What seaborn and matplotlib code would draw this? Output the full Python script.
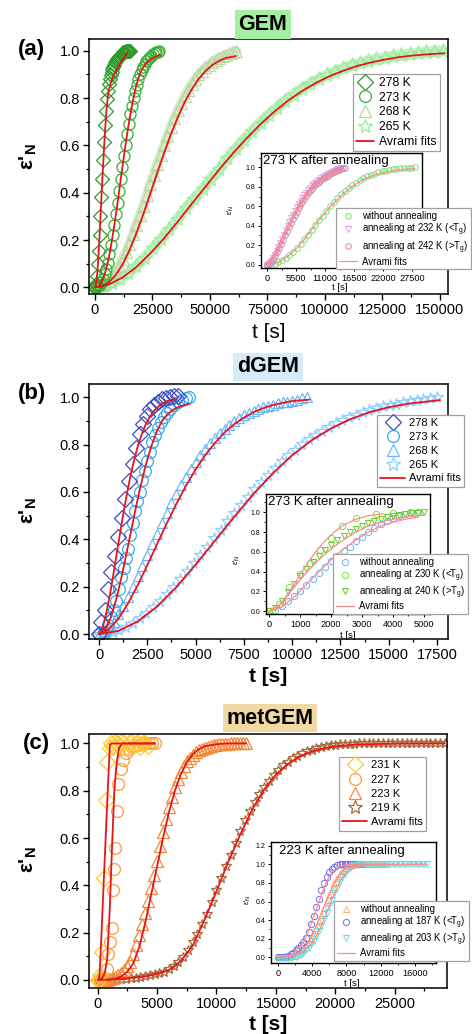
import matplotlib
matplotlib.use("Agg")
import matplotlib.pyplot as plt
import seaborn as sns
from matplotlib.lines import Line2D
from matplotlib.ticker import MultipleLocator

sns.set_theme(style="ticks")
plt.rcParams["font.family"] = ["Liberation Sans", "DejaVu Sans"]
plt.rcParams["mathtext.fontset"] = "custom"
plt.rcParams["mathtext.rm"] = "Liberation Sans"
plt.rcParams["mathtext.it"] = "Liberation Sans"
plt.rcParams["mathtext.bf"] = "Liberation Sans:bold"
for k in ["text.color", "axes.labelcolor", "xtick.color", "ytick.color", "axes.edgecolor"]:
    plt.rcParams[k] = "black"

# ---------------- DATA: panel (a) GEM ----------------
tA278 = [0, 400, 800, 1200, 1600, 2000, 2400, 2800, 3200, 3600, 4000, 4400, 4800, 5200, 5600, 6000, 6400, 6800,
         7200, 7600, 8000, 8400, 8800, 9200, 9600, 10000, 10400, 10800, 11200, 11600, 12000, 12400, 12800, 13200,
         13600, 14000, 14400, 14800, 15200]
eA278 = [0.0, 0.015, 0.05, 0.10, 0.155, 0.22, 0.30, 0.38, 0.46, 0.54, 0.615, 0.685, 0.745, 0.795, 0.83, 0.86, 0.88,
         0.897, 0.91, 0.922, 0.932, 0.942, 0.951, 0.958, 0.965, 0.97, 0.975, 0.98, 0.984, 0.987, 0.99, 0.993, 0.995,
         0.997, 0.998, 0.999, 1.0, 1.0, 1.0]
tA273 = [0, 700, 1400, 2100, 2800, 3500, 4200, 4900, 5600, 6300, 7000, 7700, 8400, 9100, 9800, 10500, 11200, 11900,
         12600, 13300, 14000, 14700, 15400, 16100, 16800, 17500, 18200, 18900, 19600, 20300, 21000, 21700, 22400,
         23100, 23800, 24500, 25200, 25900, 26600, 27300, 28000]
eA273 = [0.0, 0.001, 0.004, 0.011, 0.022, 0.036, 0.055, 0.078, 0.105, 0.14, 0.178, 0.22, 0.262, 0.31, 0.357, 0.407,
         0.457, 0.507, 0.556, 0.603, 0.649, 0.692, 0.731, 0.768, 0.80, 0.83, 0.857, 0.88, 0.90, 0.917, 0.932, 0.945,
         0.956, 0.965, 0.973, 0.979, 0.985, 0.99, 0.994, 0.997, 1.0]
tA268 = [0, 1500, 3000, 4500, 6000, 7500, 9000, 10500, 12000, 13500, 15000, 16500, 18000, 19500, 21000, 22500, 24000,
         25500, 27000, 28500, 30000, 31500, 33000, 34500, 36000, 37500, 39000, 40500, 42000, 43500, 45000, 46500,
         48000, 49500, 51000, 52500, 54000, 55500, 57000, 58500, 60000, 61500]
eA268 = [0.0, 0.003, 0.008, 0.016, 0.028, 0.045, 0.065, 0.09, 0.12, 0.15, 0.185, 0.225, 0.265, 0.305, 0.345, 0.39,
         0.435, 0.475, 0.52, 0.56, 0.60, 0.64, 0.68, 0.715, 0.75, 0.78, 0.81, 0.835, 0.86, 0.88, 0.90, 0.915, 0.93,
         0.942, 0.953, 0.962, 0.97, 0.977, 0.983, 0.989, 0.994, 1.0]
tA265 = [0, 3600, 7200, 10800, 14400, 18000, 21600, 25200, 28800, 32400, 36000, 39600, 43200, 46800, 50400, 54000,
         57600, 61200, 64800, 68400, 72000, 75600, 79200, 82800, 86400, 90000, 93600, 97200, 100800, 104400, 108000,
         111600, 115200, 118800, 122400, 126000, 129600, 133200, 136800, 140400, 144000, 147600, 151200]
eA265 = [0.0, 0.005, 0.017, 0.035, 0.06, 0.09, 0.125, 0.165, 0.205, 0.245, 0.29, 0.335, 0.375, 0.415, 0.46, 0.50,
         0.545, 0.585, 0.625, 0.66, 0.695, 0.73, 0.76, 0.79, 0.815, 0.84, 0.86, 0.88, 0.897, 0.912, 0.926, 0.938,
         0.948, 0.957, 0.964, 0.971, 0.977, 0.982, 0.986, 0.99, 0.994, 0.997, 1.0]
fA278_t = [0, 500, 1000, 1500, 2000, 2500, 3000, 3500, 4000, 4500, 5000, 5500, 6000, 7000, 8000, 9000, 10000, 11000,
           12000, 13000, 14300]
fA278_e = [0, 0.015, 0.06, 0.13, 0.22, 0.32, 0.42, 0.51, 0.60, 0.68, 0.75, 0.80, 0.835, 0.87, 0.895, 0.915, 0.932,
           0.948, 0.962, 0.976, 0.996]
fA273_t = [0, 1000, 2000, 3000, 4000, 5000, 6000, 7000, 8000, 9000, 10000, 11000, 12000, 13000, 14000, 15000, 16000,
           17000, 18000, 19000, 20000, 22000, 24000, 26000, 28300]
fA273_e = [0, 0.002, 0.009, 0.025, 0.049, 0.083, 0.126, 0.178, 0.237, 0.302, 0.371, 0.443, 0.514, 0.584, 0.649,
           0.710, 0.764, 0.812, 0.854, 0.888, 0.915, 0.945, 0.962, 0.974, 0.984]
fA268_t = [0, 3000, 6000, 9000, 12000, 15000, 18000, 21000, 24000, 27000, 30000, 33000, 36000, 39000, 42000, 45000,
           48000, 51000, 54000, 57000, 61300]
fA268_e = [0, 0.004, 0.021, 0.052, 0.097, 0.157, 0.229, 0.309, 0.395, 0.482, 0.567, 0.647, 0.719, 0.783, 0.836,
           0.880, 0.914, 0.940, 0.958, 0.970, 0.978]
fA265_t = [0, 6000, 12000, 18000, 24000, 30000, 36000, 42000, 48000, 54000, 60000, 66000, 72000, 78000, 84000, 90000,
           96000, 102000, 108000, 114000, 120000, 126000, 132000, 138000, 144000, 152000]
fA265_e = [0, 0.012, 0.042, 0.086, 0.143, 0.207, 0.278, 0.352, 0.425, 0.498, 0.567, 0.631, 0.690, 0.743, 0.790,
           0.830, 0.864, 0.893, 0.916, 0.936, 0.951, 0.963, 0.973, 0.980, 0.985, 0.99]
# inset (a)
tIA_wo = tA273
eIA_wo = [0.0, 0.003, 0.011, 0.025, 0.044, 0.07, 0.10, 0.135, 0.174, 0.217, 0.262, 0.309, 0.358, 0.407, 0.456, 0.505,
          0.552, 0.598, 0.641, 0.682, 0.721, 0.756, 0.788, 0.817, 0.844, 0.867, 0.889, 0.907, 0.923, 0.936, 0.948,
          0.958, 0.966, 0.973, 0.979, 0.984, 0.988, 0.991, 0.994, 0.997, 1.0]
tIA_232 = [0, 350, 700, 1050, 1400, 1750, 2100, 2450, 2800, 3150, 3500, 3850, 4200, 4550, 4900, 5250, 5600, 5950,
           6300, 6650, 7000, 7350, 7700, 8050, 8400, 8750, 9100, 9450, 9800, 10150, 10500, 10850, 11200, 11550,
           11900, 12250, 12600, 12950, 13300, 13650, 14000]
eIA_232 = [0.0, 0.013, 0.037, 0.067, 0.102, 0.14, 0.181, 0.223, 0.266, 0.309, 0.352, 0.394, 0.436, 0.476, 0.515,
           0.552, 0.588, 0.621, 0.653, 0.683, 0.711, 0.738, 0.762, 0.785, 0.806, 0.825, 0.843, 0.859, 0.874, 0.888,
           0.901, 0.913, 0.924, 0.935, 0.945, 0.954, 0.963, 0.971, 0.979, 0.987, 0.995]
tIA_242 = [0, 370, 740, 1110, 1480, 1850, 2220, 2590, 2960, 3330, 3700, 4070, 4440, 4810, 5180, 5550, 5920, 6290,
           6660, 7030, 7400, 7770, 8140, 8510, 8880, 9250, 9620, 9990, 10360, 10730, 11100, 11470, 11840, 12210,
           12580, 12950, 13320, 13690, 14060, 14430, 14800]
eIA_242 = [0.0, 0.01, 0.032, 0.06, 0.094, 0.132, 0.172, 0.214, 0.257, 0.3, 0.343, 0.386, 0.428, 0.468, 0.507, 0.545,
           0.581, 0.615, 0.647, 0.678, 0.707, 0.734, 0.759, 0.782, 0.804, 0.824, 0.842, 0.859, 0.875, 0.889, 0.902,
           0.915, 0.927, 0.938, 0.949, 0.959, 0.968, 0.977, 0.985, 0.992, 0.998]
fIA_wo_t = [0, 2000, 4000, 6000, 8000, 10000, 12000, 14000, 16000, 18000, 20000, 22000, 24000, 26000, 28000]
fIA_wo_e = [0, 0.02, 0.09, 0.19, 0.33, 0.47, 0.6, 0.71, 0.8, 0.87, 0.915, 0.945, 0.965, 0.978, 0.986]
fIA_232_t = [0, 1000, 2000, 3000, 4000, 5000, 6000, 7000, 8000, 9000, 10000, 11000, 12000, 13000, 14000]
fIA_232_e = [0, 0.09, 0.17, 0.29, 0.41, 0.52, 0.62, 0.7, 0.77, 0.83, 0.87, 0.905, 0.93, 0.95, 0.965]
fIA_242_t = [0, 1000, 2000, 3000, 4000, 5000, 6000, 7000, 8000, 9000, 10000, 11000, 12000, 13000, 14800]
fIA_242_e = [0, 0.07, 0.15, 0.26, 0.37, 0.48, 0.58, 0.67, 0.74, 0.8, 0.85, 0.89, 0.92, 0.94, 0.965]

# ---------------- DATA: panel (b) dGEM ----------------
tB278 = [0, 110, 290, 460, 640, 820, 1000, 1180, 1370, 1560, 1750, 1930, 2110, 2290, 2470, 2650, 2840, 3030, 3240,
         3450, 3670, 3890, 4100]
eB278 = [0.0, 0.05, 0.10, 0.19, 0.26, 0.33, 0.41, 0.49, 0.57, 0.645, 0.72, 0.787, 0.843, 0.886, 0.922, 0.949, 0.967,
         0.981, 0.991, 0.997, 1.0, 1.004, 1.004]
tB273 = [0, 250, 450, 600, 750, 900, 1030, 1150, 1270, 1390, 1500, 1620, 1740, 1860, 1980, 2100, 2230, 2360, 2490,
         2620, 2760, 2900, 3050, 3200, 3360, 3520, 3700, 3880, 4070, 4270, 4480, 4680]
eB273 = [0.0, 0.01, 0.04, 0.07, 0.10, 0.14, 0.19, 0.24, 0.28, 0.32, 0.36, 0.42, 0.47, 0.52, 0.56, 0.60, 0.65, 0.69,
         0.73, 0.77, 0.81, 0.84, 0.87, 0.895, 0.915, 0.935, 0.952, 0.966, 0.978, 0.988, 0.995, 1.0]
tB268 = [0, 250, 500, 750, 1000, 1250, 1500, 1750, 2000, 2250, 2500, 2750, 3000, 3250, 3500, 3750, 4000, 4250, 4500,
         4750, 5000, 5250, 5500, 5750, 6000, 6250, 6500, 6750, 7000, 7250, 7500, 7750, 8000, 8250, 8500, 8750, 9000,
         9250, 9500, 9750, 10000, 10250, 10500, 10750]
eB268 = [0.0, 0.008, 0.027, 0.052, 0.083, 0.119, 0.158, 0.200, 0.244, 0.289, 0.334, 0.379, 0.424, 0.468, 0.511,
         0.552, 0.591, 0.629, 0.664, 0.697, 0.728, 0.757, 0.783, 0.807, 0.830, 0.850, 0.868, 0.884, 0.899, 0.912,
         0.924, 0.934, 0.943, 0.951, 0.958, 0.964, 0.969, 0.974, 0.978, 0.982, 0.986, 0.99, 0.995, 1.0]
tB265 = [0, 350, 700, 1050, 1400, 1750, 2100, 2450, 2800, 3150, 3500, 3850, 4200, 4550, 4900, 5250, 5600, 5950, 6300,
         6650, 7000, 7350, 7700, 8050, 8400, 8750, 9100, 9450, 9800, 10150, 10500, 10850, 11200, 11550, 11900, 12250,
         12600, 12950, 13300, 13650, 14000, 14350, 14700, 15050, 15400, 15750, 16100, 16450, 16800, 17150, 17500]
eB265 = [0.0, 0.002, 0.007, 0.016, 0.029, 0.046, 0.066, 0.089, 0.114, 0.141, 0.17, 0.2, 0.232, 0.265, 0.299, 0.334,
         0.369, 0.405, 0.44, 0.476, 0.511, 0.546, 0.579, 0.612, 0.643, 0.673, 0.702, 0.729, 0.755, 0.779, 0.801,
         0.822, 0.841, 0.859, 0.875, 0.89, 0.904, 0.916, 0.927, 0.937, 0.946, 0.954, 0.961, 0.967, 0.973, 0.978,
         0.983, 0.987, 0.991, 0.995, 0.999]
fB278_t = [0, 200, 400, 600, 800, 1000, 1200, 1400, 1600, 1800, 2000, 2200, 2400, 2600, 2800, 3000, 3300, 3600, 4000]
fB278_e = [0, 0.031, 0.097, 0.183, 0.281, 0.382, 0.481, 0.574, 0.658, 0.730, 0.791, 0.841, 0.882, 0.913, 0.938,
           0.956, 0.975, 0.986, 0.993]
fB273_t = [0, 300, 600, 900, 1200, 1500, 1800, 2100, 2400, 2700, 3000, 3300, 3600, 3900, 4200, 4680]
fB273_e = [0, 0.016, 0.067, 0.149, 0.254, 0.372, 0.492, 0.607, 0.708, 0.792, 0.858, 0.905, 0.932, 0.950, 0.962, 0.972]
fB268_t = [0, 500, 1000, 1500, 2000, 2500, 3000, 3500, 4000, 4500, 5000, 5500, 6000, 6500, 7000, 7500, 8000, 8500,
           9000, 9500, 10000, 10900]
fB268_e = [0, 0.019, 0.064, 0.129, 0.206, 0.291, 0.379, 0.466, 0.549, 0.626, 0.695, 0.756, 0.807, 0.851, 0.886,
           0.914, 0.937, 0.954, 0.967, 0.976, 0.984, 0.99]
fB265_t = [0, 1000, 2000, 3000, 4000, 5000, 6000, 7000, 8000, 9000, 10000, 11000, 12000, 13000, 14000, 15000, 16000,
           17660]
fB265_e = [0, 0.013, 0.053, 0.116, 0.198, 0.293, 0.394, 0.495, 0.592, 0.679, 0.755, 0.818, 0.868, 0.907, 0.937,
           0.958, 0.973, 0.988]
# inset (b)
tIB_wo = [0, 200, 400, 600, 800, 1000, 1200, 1400, 1600, 1800, 2000, 2200, 2400, 2600, 2800, 3000, 3200, 3400, 3600,
          3800, 4000, 4200, 4400, 4600, 4800]
eIB_wo = [0.0, 0.01, 0.05, 0.105, 0.155, 0.205, 0.265, 0.325, 0.39, 0.45, 0.51, 0.56, 0.605, 0.65, 0.705, 0.75, 0.805,
          0.845, 0.88, 0.915, 0.94, 0.96, 0.98, 0.99, 1.0]
tIB_230 = [0, 300, 650, 1000, 1300, 1650, 2000, 2340, 2800, 3460, 4000, 4550]
eIB_230 = [0.0, 0.07, 0.24, 0.38, 0.49, 0.62, 0.74, 0.86, 0.94, 0.98, 0.99, 1.0]
tIB_240 = [0, 200, 400, 600, 800, 1000, 1200, 1400, 1600, 1800, 2000, 2200, 2400, 2600, 2800, 3000, 3200, 3400, 3600,
           3800, 4000, 4200, 4400, 4600, 4800, 5000]
eIB_240 = [0.0, 0.03, 0.1, 0.19, 0.27, 0.35, 0.43, 0.5, 0.56, 0.62, 0.67, 0.72, 0.76, 0.8, 0.835, 0.865, 0.89, 0.915,
           0.935, 0.95, 0.965, 0.975, 0.985, 0.99, 0.995, 1.0]
fIB_wo_t = [0, 400, 800, 1200, 1600, 2000, 2400, 2800, 3200, 3600, 4000, 4400, 4800]
fIB_wo_e = [0, 0.04, 0.14, 0.27, 0.4, 0.52, 0.63, 0.72, 0.8, 0.86, 0.9, 0.93, 0.95]
fIB_230_t = [0, 300, 600, 900, 1200, 1500, 1800, 2100, 2400, 2800, 3200, 3700]
fIB_230_e = [0, 0.05, 0.17, 0.32, 0.47, 0.6, 0.71, 0.8, 0.87, 0.93, 0.965, 0.985]
fIB_240_t = [0, 400, 800, 1200, 1600, 2000, 2400, 2800, 3200, 3600, 4000, 4500, 5000]
fIB_240_e = [0, 0.08, 0.24, 0.39, 0.52, 0.63, 0.72, 0.8, 0.86, 0.9, 0.93, 0.955, 0.97]

# ---------------- DATA: panel (c) metGEM ----------------
tC231 = [0, 100, 200, 340, 530, 700, 810, 1000, 1150, 1300, 1450, 1600, 1800, 2000, 2200, 2400, 2600, 2800, 3000,
         3200, 3400, 3600, 3800, 4000, 4200]
eC231 = [0.0, 0.0, 0.02, 0.12, 0.43, 0.76, 0.92, 0.98, 1.0, 0.985, 1.005, 1.0, 0.99, 1.005, 1.0, 0.985, 1.0, 1.005,
         0.99, 1.0, 1.0, 0.985, 1.0, 1.0, 0.99]
tC227 = [0, 200, 400, 600, 760, 890, 1060, 1180, 1260, 1350, 1455, 1600, 1730, 1930, 2150, 2380, 2600, 2850, 3100,
         3400, 3700, 4000, 4300, 4600, 4820]
eC227 = [0.0, 0.0, 0.0, 0.01, 0.045, 0.108, 0.16, 0.22, 0.38, 0.47, 0.556, 0.715, 0.827, 0.891, 0.93, 0.958, 0.975,
         0.985, 0.99, 0.995, 1.0, 1.0, 1.0, 1.0, 1.0]
tC223 = [500, 750, 1000, 1250, 1500, 1750, 2000, 2250, 2500, 2750, 3000, 3250, 3500, 3750, 4000, 4250, 4500, 4750,
         5000, 5250, 5500, 5750, 6000, 6250, 6500, 6750, 7000, 7250, 7500, 7750, 8000, 8250, 8500, 8750, 9000, 9250,
         9500, 9750, 10000, 10250, 10500, 10750, 11000, 11250, 11500, 11750, 12000, 12250, 12500]
eC223 = [0.0, 0.0, 0.003, 0.007, 0.012, 0.02, 0.03, 0.043, 0.058, 0.078, 0.11, 0.148, 0.188, 0.235, 0.285, 0.335,
         0.39, 0.445, 0.505, 0.565, 0.625, 0.68, 0.73, 0.775, 0.815, 0.85, 0.88, 0.905, 0.925, 0.94, 0.953, 0.963,
         0.971, 0.977, 0.982, 0.986, 0.989, 0.992, 0.994, 0.996, 0.997, 0.998, 0.999, 1.0, 1.0, 1.0, 1.0, 1.0, 1.0]
tC219 = [0, 400, 800, 1200, 1600, 2000, 2400, 2800, 3200, 3600, 4000, 4400, 4800, 5200, 5600, 6000, 6400, 6800, 7200,
         7600, 8000, 8400, 8800, 9200, 9600, 10000, 10400, 10800, 11200, 11600, 12000, 12400, 12800, 13200, 13600,
         14000, 14400, 14800, 15200, 15600, 16000, 16400, 16800, 17200, 17600, 18000, 18400, 18800, 19200, 19600,
         20000, 20400, 20800, 21200, 21600, 22000, 22400, 22800, 23200, 23600, 24000, 24400, 24800, 25200, 25600,
         26000, 26400, 26800, 27200, 27600, 28000, 28400, 28800, 29200]
eC219 = [0.0, 0.0, 0.001, 0.002, 0.003, 0.004, 0.006, 0.008, 0.01, 0.013, 0.016, 0.02, 0.024, 0.029, 0.035, 0.045,
         0.058, 0.075, 0.098, 0.128, 0.16, 0.195, 0.235, 0.28, 0.33, 0.38, 0.43, 0.48, 0.53, 0.58, 0.63, 0.675, 0.715,
         0.752, 0.785, 0.815, 0.842, 0.866, 0.888, 0.907, 0.923, 0.937, 0.949, 0.959, 0.967, 0.974, 0.98, 0.985,
         0.989, 0.992, 0.994, 0.996, 0.997, 0.998, 0.999, 1.0, 1.0, 1.0, 1.0, 1.0, 1.0, 1.0, 1.0, 1.0, 1.0, 1.0, 1.0,
         1.0, 1.0, 1.0, 1.0, 1.0, 1.0, 1.0]
fC231_t = [140, 300, 600, 900, 1030, 1200, 4800]
fC231_e = [0.0, 0.17, 0.52, 0.86, 0.995, 1.0, 1.0]
fC227_t = [300, 600, 800, 1000, 1200, 1400, 1600, 1800, 2050, 4820]
fC227_e = [0.0, 0.03, 0.09, 0.28, 0.55, 0.80, 0.92, 0.98, 1.0, 1.0]
fC223_t = [800, 1500, 2000, 2500, 3000, 3500, 4000, 4500, 5000, 5500, 6000, 6500, 7000, 7500, 8000, 8500, 9000, 10000,
           11000, 12500]
fC223_e = [0.0, 0.005, 0.015, 0.035, 0.07, 0.14, 0.24, 0.36, 0.48, 0.6, 0.71, 0.8, 0.87, 0.92, 0.955, 0.975, 0.988,
           0.997, 1.0, 1.0]
fC219_t = [0, 2000, 4000, 5000, 6000, 7000, 8000, 9000, 10000, 11000, 12000, 13000, 14000, 15000, 16000, 17000, 18000,
           19000, 20000, 22000, 25000, 29200]
fC219_e = [0, 0.004, 0.015, 0.025, 0.042, 0.08, 0.145, 0.255, 0.375, 0.5, 0.615, 0.72, 0.805, 0.868, 0.913, 0.945,
           0.966, 0.979, 0.988, 0.996, 0.999, 1.0]
# inset (c)
tIC_wo = [0, 300, 600, 900, 1200, 1500, 1800, 2100, 2400, 2700, 3000, 3300, 3600, 3900, 4200, 4500, 4800, 5100, 5400,
          5700, 6000, 6300, 6600, 6900, 7200, 7500, 7800, 8100, 8400, 8700, 9000, 9300, 9600, 9900, 10200, 10500,
          10800, 11100, 11400, 11700, 12000, 12300, 12600]
eIC_wo = [0.0, 0.0, 0.0, 0.002, 0.005, 0.01, 0.018, 0.03, 0.05, 0.075, 0.105, 0.135, 0.165, 0.2, 0.26, 0.32, 0.39,
          0.46, 0.53, 0.6, 0.67, 0.74, 0.8, 0.855, 0.9, 0.935, 0.96, 0.978, 0.99, 0.996, 1.0, 1.0, 1.0, 1.0, 1.0, 1.0,
          1.0, 1.0, 1.0, 1.0, 1.0, 1.0, 1.0]
tIC_187 = [0, 300, 600, 900, 1200, 1500, 1800, 2100, 2400, 2700, 3000, 3300, 3600, 3900, 4200, 4500, 4800, 5100, 5400,
           5700, 6000, 6300, 6600, 6900, 7200, 7500, 7800, 8100, 8400, 8700, 9000, 9300, 9600, 9900]
eIC_187 = [0.0, 0.0, 0.003, 0.008, 0.02, 0.035, 0.052, 0.075, 0.1, 0.13, 0.165, 0.205, 0.27, 0.36, 0.45, 0.54, 0.63,
           0.72, 0.8, 0.865, 0.915, 0.95, 0.975, 0.99, 1.0, 1.0, 1.0, 1.0, 1.0, 1.0, 1.0, 1.0, 1.0, 1.0]
tIC_203 = [0, 300, 600, 900, 1200, 1500, 1800, 2100, 2400, 2700, 3000, 3300, 3600, 3900, 4200, 4500, 4800, 5100, 5400,
           5700, 6000, 6300, 6600, 6900, 7200, 7500, 7800, 8100, 8400, 8700, 9000, 9300, 9600, 9900, 10200, 10500,
           10800, 11100, 11400, 11700, 12000, 12300, 12600, 12900, 13200, 13500, 13800, 14100, 14400, 14700, 15000,
           15300, 15600, 15900, 16200, 16500, 16800, 17100, 17400]
eIC_203 = [-0.01, -0.01, -0.01, -0.01, -0.008, -0.005, 0.0, 0.008, 0.018, 0.03, 0.05, 0.075, 0.105, 0.14, 0.18, 0.225,
           0.28, 0.34, 0.41, 0.48, 0.55, 0.62, 0.69, 0.75, 0.81, 0.86, 0.9, 0.935, 0.96, 0.978, 0.99, 0.997, 1.0, 1.0,
           1.0, 1.0, 1.0, 1.0, 1.0, 1.0, 1.0, 1.0, 1.0, 1.0, 1.0, 1.0, 1.0, 1.0, 1.0, 1.0, 1.0, 1.0, 1.0, 1.0, 1.0,
           1.0, 1.0, 1.0, 1.0]
fIC_wo_t = [0, 1500, 2500, 3500, 4000, 4500, 5000, 5500, 6000, 6500, 7000, 7500, 8000, 9000, 12600]
fIC_wo_e = [0, 0.01, 0.05, 0.15, 0.24, 0.34, 0.45, 0.57, 0.68, 0.78, 0.86, 0.92, 0.96, 0.99, 1.0]
fIC_187_t = [0, 1000, 2000, 3000, 3500, 4000, 4500, 5000, 5500, 6000, 6500, 7000, 8000, 9900]
fIC_187_e = [0, 0.01, 0.06, 0.17, 0.27, 0.39, 0.52, 0.65, 0.77, 0.87, 0.93, 0.97, 0.995, 1.0]
fIC_203_t = [0, 2000, 3000, 4000, 4500, 5000, 5500, 6000, 6500, 7000, 7500, 8000, 9000, 10000, 17400]
fIC_203_e = [0, 0.02, 0.06, 0.15, 0.23, 0.32, 0.43, 0.55, 0.66, 0.76, 0.85, 0.91, 0.97, 0.995, 1.0]

# ---------------- figure ----------------
W, H = 472, 1034
fig = plt.figure(figsize=(W / 100, H / 100), dpi=100)
RED = "#e8141a"
LRED = "#ff8a8a"


def fx(x):
    return x / W


def fy(y):
    return 1 - y / H


def fbox(l, t, r, b):
    return [l / W, 1 - b / H, (r - l) / W, (b - t) / H]


def scat(ax, t, e, marker, color, ms, mew=0.9, alpha=1.0):
    sns.lineplot(x=t, y=e, ax=ax, color=color, marker=marker, linestyle="", markersize=ms,
                 markerfacecolor="none", markeredgecolor=color, markeredgewidth=mew, alpha=alpha,
                 estimator=None, sort=False, legend=False, zorder=2)


def band(ax, t, e, color, lw, alpha):
    # dense overlapping markers form a continuous pale band in the original
    sns.lineplot(x=t, y=e, ax=ax, color=color, linewidth=lw, alpha=alpha, estimator=None, sort=False,
                 legend=False, zorder=1.5, solid_capstyle="round")


def fit(ax, t, e, color=RED, lw=1.3):
    sns.lineplot(x=t, y=e, ax=ax, color=color, linewidth=lw, estimator=None, sort=False,
                 legend=False, zorder=3)


def mk(marker, color, ms, mew=0.9):
    return Line2D([], [], linestyle="", marker=marker, markersize=ms, markerfacecolor="none",
                  markeredgecolor=color, markeredgewidth=mew)


def style(ax, xlim, ylim, xmaj, xmin, inset=False):
    ax.set_xlim(*xlim)
    ax.set_ylim(*ylim)
    ax.set_xlabel("")
    ax.set_ylabel("")
    ax.grid(False)
    ax.xaxis.set_major_locator(MultipleLocator(xmaj))
    ax.xaxis.set_minor_locator(MultipleLocator(xmin))
    ax.yaxis.set_major_locator(MultipleLocator(0.2))
    ax.yaxis.set_minor_locator(MultipleLocator(0.1))
    ax.tick_params(which="both", direction="out", top=False, right=False, colors="black")
    for s in ax.spines.values():
        s.set_visible(True)
        s.set_color("black")
        s.set_linewidth(1.0 if inset else 1.1)
    if inset:
        ax.tick_params(which="major", length=2.5, width=0.7, pad=1.5)
        ax.tick_params(which="minor", length=1.5, width=0.6)
        ax.tick_params(axis="x", labelsize=6.6)
        ax.tick_params(axis="y", labelsize=5.0)
    else:
        ax.tick_params(which="major", length=4, width=1.0, pad=2.5, labelsize=10.5)
        ax.tick_params(which="minor", length=2.5, width=0.9)


def legend(ax, handles, labels, x, y, fs, ls, hl, htp, bp=0.3):
    lg = ax.legend(handles, labels, loc="upper left", bbox_to_anchor=(fx(x), fy(y)),
                   bbox_transform=fig.transFigure, fontsize=fs, frameon=True, fancybox=False,
                   edgecolor="#a0a0a0", framealpha=1, borderaxespad=0, borderpad=bp,
                   labelspacing=ls, handlelength=hl, handletextpad=htp)
    lg.get_frame().set_linewidth(0.9)
    lg.set_zorder(10)
    return lg


# ===== panel (a) =====
axA = fig.add_axes(fbox(89, 39, 448, 294))
cA = ["#2a9a2a", "#35b035", "#b3d89c", "#98ea98"]
band(axA, tA265, eA265, "#b4f2b4", 8, 0.8)
band(axA, tA268, eA268, "#cfe6c2", 7, 0.8)
scat(axA, tA265, eA265, "*", cA[3], 11, alpha=0.85)
scat(axA, tA268, eA268, "^", cA[2], 9, alpha=0.9)
scat(axA, tA273, eA273, "o", cA[1], 8)
scat(axA, tA278, eA278, "D", cA[0], 7)
for tt, ee in [(fA278_t, fA278_e), (fA273_t, fA273_e), (fA268_t, fA268_e), (fA265_t, fA265_e)]:
    fit(axA, tt, ee)
style(axA, (-2600, 153500), (-0.028, 1.05), 25000, 12500)
legend(axA, [mk("D", cA[0], 8), mk("o", cA[1], 8.5), mk("^", cA[2], 8.5), mk("*", cA[3], 10),
             Line2D([], [], color=RED, lw=1.3)],
       ["278 K", "273 K", "268 K", "265 K", "Avrami fits"], 353, 74, 8.8, 0.22, 1.5, 0.4, 0.25)

axAi = fig.add_axes(fbox(261, 153, 422, 268))
scat(axAi, tIA_wo, eIA_wo, "o", "#77dd77", 4, mew=0.7)
scat(axAi, tIA_232, eIA_232, "v", "#e2a4f0", 4, mew=0.7)
scat(axAi, tIA_242, eIA_242, "o", "#c98ab0", 4, mew=0.7)
for tt, ee in [(fIA_wo_t, fIA_wo_e), (fIA_232_t, fIA_232_e), (fIA_242_t, fIA_242_e)]:
    fit(axAi, tt, ee, LRED, 0.9)
style(axAi, (-1200, 29340), (-0.034, 1.147), 5500, 2750, inset=True)
axAi.text(0.012, 0.985, "273 K after annealing", transform=axAi.transAxes, ha="left", va="top", fontsize=9.5)
legend(axAi, [mk("o", "#77dd77", 4, 0.7), mk("v", "#e2a4f0", 4, 0.7), mk("o", "#c98ab0", 4, 0.7),
              Line2D([], [], color=LRED, lw=0.9)],
       ["without annealing", r"annealing at 232 K (<T$_\mathrm{g}$)", r"annealing at 242 K (>T$_\mathrm{g}$)",
        "Avrami fits"], 336, 208, 6.9, 0.1, 1.9, 0.5, 0.3)

# ===== panel (b) =====
axB = fig.add_axes(fbox(89, 384, 448, 639))
cB = ["#3b4cc0", "#3ba8ee", "#6fb5f5", "#8ccfff"]
scat(axB, tB265, eB265, "*", cB[3], 8.5)
scat(axB, tB268, eB268, "^", cB[2], 7.5)
scat(axB, tB273, eB273, "o", cB[1], 8.5)
scat(axB, tB278, eB278, "D", cB[0], 8)
for tt, ee in [(fB278_t, fB278_e), (fB273_t, fB273_e), (fB268_t, fB268_e), (fB265_t, fB265_e)]:
    fit(axB, tt, ee)
style(axB, (-520, 18070), (-0.021, 1.056), 2500, 1250)
legend(axB, [mk("D", cB[0], 8), mk("o", cB[1], 8.5), mk("^", cB[2], 8.5), mk("*", cB[3], 10),
             Line2D([], [], color=RED, lw=1.3)],
       ["278 K", "273 K", "268 K", "265 K", "Avrami fits"], 377, 415, 8, 0.34, 2.2, 0.35, 0.3)

axBi = fig.add_axes(fbox(266, 494, 430, 614))
scat(axBi, tIB_wo, eIB_wo, "o", "#66b5ee", 4.5, mew=0.7)
scat(axBi, tIB_230, eIB_230, "o", "#7ddc4a", 4.5, mew=0.7)
scat(axBi, tIB_240, eIB_240, "v", "#66cc22", 4.5, mew=0.7)
for tt, ee in [(fIB_wo_t, fIB_wo_e), (fIB_230_t, fIB_230_e), (fIB_240_t, fIB_240_e)]:
    fit(axBi, tt, ee, LRED, 0.9)
style(axBi, (-107, 5196), (-0.03, 1.185), 1000, 500, inset=True)
axBi.text(0.012, 0.985, "273 K after annealing", transform=axBi.transAxes, ha="left", va="top", fontsize=9.5)
legend(axBi, [mk("o", "#66b5ee", 4.5, 0.7), mk("o", "#7ddc4a", 4.5, 0.7), mk("v", "#66cc22", 4.5, 0.7),
              Line2D([], [], color=LRED, lw=0.9)],
       ["without annealing", r"annealing at 230 K (<T$_\mathrm{g}$)", r"annealing at 240 K (>T$_\mathrm{g}$)",
        "Avrami fits"], 333, 554, 6.9, 0.05, 1.9, 0.5, 0.3)

# ===== panel (c) =====
axC = fig.add_axes(fbox(89, 734, 447, 988))
cC = ["#ffc832", "#ff9a3c", "#f5893a", "#a86a3a"]
scat(axC, tC219, eC219, "*", cC[3], 7.5)
scat(axC, tC223, eC223, "^", cC[2], 8)
scat(axC, tC227, eC227, "o", cC[1], 8.5)
scat(axC, tC231, eC231, "D", cC[0], 8)
for tt, ee in [(fC231_t, fC231_e), (fC227_t, fC227_e), (fC223_t, fC223_e), (fC219_t, fC219_e)]:
    fit(axC, tt, ee)
style(axC, (-730, 29400), (-0.034, 1.04), 5000, 2500)
legend(axC, [mk("D", cC[0], 8), mk("o", cC[1], 8.5), mk("^", cC[2], 8.5), mk("*", cC[3], 10),
             Line2D([], [], color=RED, lw=1.3)],
       ["231 K", "227 K", "223 K", "219 K", "Avrami fits"], 339, 757, 8, 0.38, 2.2, 0.35, 0.3)

axCi = fig.add_axes(fbox(271, 842, 436, 963))
scat(axCi, tIC_wo, eIC_wo, "^", "#ffad60", 4.5, mew=0.7)
scat(axCi, tIC_187, eIC_187, "o", "#7070ee", 4.5, mew=0.7)
scat(axCi, tIC_203, eIC_203, "v", "#55e0e8", 4.5, mew=0.7)
for tt, ee in [(fIC_wo_t, fIC_wo_e), (fIC_187_t, fIC_187_e), (fIC_203_t, fIC_203_e)]:
    fit(axCi, tt, ee, LRED, 0.9)
style(axCi, (-780, 18440), (-0.06, 1.24), 4000, 2000, inset=True)
axCi.text(0.05, 0.975, "223 K after annealing", transform=axCi.transAxes, ha="left", va="top", fontsize=9.5)
legend(axCi, [mk("^", "#ffad60", 4.5, 0.7), mk("o", "#7070ee", 4.5, 0.7), mk("v", "#55e0e8", 4.5, 0.7),
              Line2D([], [], color=LRED, lw=0.9)],
       ["without annealing", r"annealing at 187 K (<T$_\mathrm{g}$)", r"annealing at 203 K (>T$_\mathrm{g}$)",
        "Avrami fits"], 334, 901, 6.9, 0.05, 1.9, 0.5, 0.3)

# ===== figure texts =====
for txt, x, y, fc in [("GEM", 263, 24.5, "#a3eea3"), ("dGEM", 268, 367, "#d5ebfa"), ("metGEM", 270, 718, "#f0d9a2")]:
    fig.text(fx(x), fy(y), txt, ha="center", va="center", fontsize=15.5, fontweight="bold",
             bbox=dict(boxstyle="square,pad=0.18", fc=fc, ec="none"))
for txt, x, y in [("(a)", 31, 49), ("(b)", 32, 394), ("(c)", 36, 743)]:
    fig.text(fx(x), fy(y), txt, ha="center", va="center", fontsize=16, fontweight="bold")
for y in [157, 511, 860]:
    fig.text(fx(28), fy(y), r"ε'$_\mathbf{N}$", rotation=90, ha="center", va="center", fontsize=15,
             fontweight="bold")
fig.text(fx(268.5), fy(332), "t [s]", ha="center", va="center", fontsize=15)
fig.text(fx(268.5), fy(676), "t [s]", ha="center", va="center", fontsize=15, fontweight="bold")
fig.text(fx(268.5), fy(1025), "t [s]", ha="center", va="center", fontsize=15, fontweight="bold")
for x, y in [(340, 287), (348, 635), (352, 983)]:
    fig.text(fx(x), fy(y), "t [s]", ha="center", va="center", fontsize=6.8)
for x, y in [(231, 210), (237, 560), (248, 900)]:
    fig.text(fx(x), fy(y), r"ε'$_\mathrm{N}$", rotation=90, ha="center", va="center", fontsize=5.5)

fig.savefig("out.png", dpi=100)
